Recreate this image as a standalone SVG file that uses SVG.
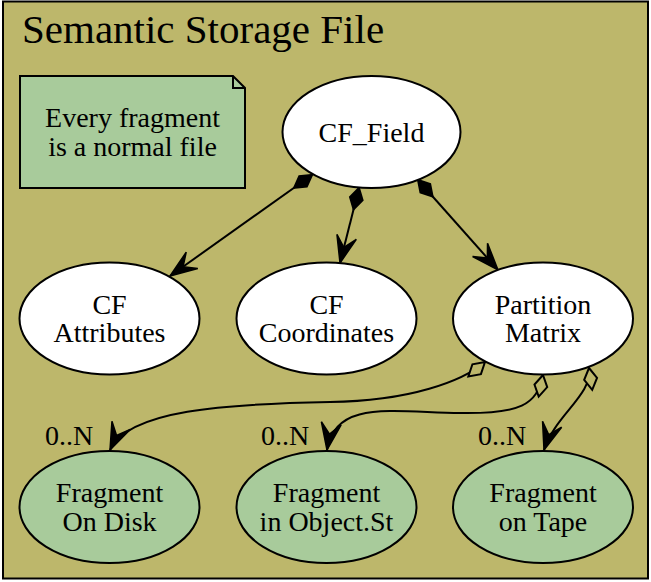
<svg xmlns="http://www.w3.org/2000/svg" width="651" height="582" viewBox="0 0 651 582" font-family="'Liberation Serif', 'DejaVu Serif', serif">
<style>
.lbl{font-size:28px;text-anchor:middle}
.card{font-size:28px}
.n{stroke:#000;stroke-width:2}
.w{fill:#fff}
.g{fill:#a8cb9b}
.e{fill:none;stroke:#000;stroke-width:2}
</style>
<defs>
<marker id="vee" markerUnits="userSpaceOnUse" orient="auto" markerWidth="30" markerHeight="24" refX="0" refY="0" viewBox="-28 -12 30 24" overflow="visible">
<path d="M0,0 L-27,-10 L-16,0 L-27,10 Z" fill="#000" stroke="#000" stroke-width="1.5"/>
</marker>
<marker id="dia" markerUnits="userSpaceOnUse" orient="auto" markerWidth="24" markerHeight="14" refX="0" refY="0" viewBox="0 -7 24 14" overflow="visible">
<path d="M0,0 L11,-6.5 L22,0 L11,6.5 Z" fill="#000" stroke="#000" stroke-width="2"/>
</marker>
<marker id="odia" markerUnits="userSpaceOnUse" orient="auto" markerWidth="24" markerHeight="14" refX="0" refY="0" viewBox="0 -7 24 14" overflow="visible">
<path d="M0,0 L11,-6.5 L22,0 L11,6.5 Z" fill="#bdb76b" stroke="#000" stroke-width="2"/>
</marker>
</defs>
<g id="cluster">
<rect x="3" y="1.5" width="645" height="577" fill="#bdb76b" stroke="#000" stroke-width="2"/>
<text x="22" y="43" font-size="41">Semantic Storage File</text>
</g>
<g id="note">
<path d="M20,76 L233,76 L245,88 L245,188 L20,188 Z" class="n g"/>
<path d="M233,76 L233,88 L245,88" fill="none" stroke="#000" stroke-width="2"/>
<text class="lbl" x="132.5" y="127">Every fragment</text>
<text class="lbl" x="132.5" y="156">is a normal file</text>
</g>
<g id="edges">
<path class="e" d="M312,175 L170,276" marker-start="url(#dia)" marker-end="url(#vee)"/>
<path class="e" d="M359,188 L340,263" marker-start="url(#dia)" marker-end="url(#vee)"/>
<path class="e" d="M418,180 L498,270" marker-start="url(#dia)" marker-end="url(#vee)"/>
<path class="e" d="M485,362 C463,381 410,401 330,402 C225,404 128,410 110,450" marker-start="url(#odia)" marker-end="url(#vee)"/>
<path class="e" d="M543,375 C537,405 520,414 460,413 C390,412 335,400 327,450" marker-start="url(#odia)" marker-end="url(#vee)"/>
<path class="e" d="M589,368 C593,395 555,415 544,450" marker-start="url(#odia)" marker-end="url(#vee)"/>
<text class="card" x="45" y="445">0..N</text>
<text class="card" x="261" y="445">0..N</text>
<text class="card" x="478" y="445">0..N</text>
</g>
<g id="cf_field">
<ellipse cx="371.5" cy="132" rx="89" ry="56" class="n w"/>
<text class="lbl" x="371.5" y="142">CF_Field</text>
</g>
<g id="cf_attributes">
<ellipse cx="109.5" cy="318.5" rx="90" ry="56" class="n w"/>
<text class="lbl" x="109.5" y="314">CF</text>
<text class="lbl" x="109.5" y="342">Attributes</text>
</g>
<g id="cf_coordinates">
<ellipse cx="326.5" cy="318.5" rx="90" ry="56" class="n w"/>
<text class="lbl" x="326.5" y="314">CF</text>
<text class="lbl" x="326.5" y="342">Coordinates</text>
</g>
<g id="partition_matrix">
<ellipse cx="543" cy="318.5" rx="90" ry="56" class="n w"/>
<text class="lbl" x="543" y="314">Partition</text>
<text class="lbl" x="543" y="342">Matrix</text>
</g>
<g id="fragment_disk">
<ellipse cx="109.5" cy="507" rx="90" ry="56" class="n g"/>
<text class="lbl" x="109.5" y="502">Fragment</text>
<text class="lbl" x="109.5" y="531">On Disk</text>
</g>
<g id="fragment_object">
<ellipse cx="326.5" cy="507" rx="90" ry="56" class="n g"/>
<text class="lbl" x="326.5" y="502">Fragment</text>
<text class="lbl" x="326.5" y="531">in Object.St</text>
</g>
<g id="fragment_tape">
<ellipse cx="543" cy="507" rx="90" ry="56" class="n g"/>
<text class="lbl" x="543" y="502">Fragment</text>
<text class="lbl" x="543" y="531">on Tape</text>
</g>
</svg>
